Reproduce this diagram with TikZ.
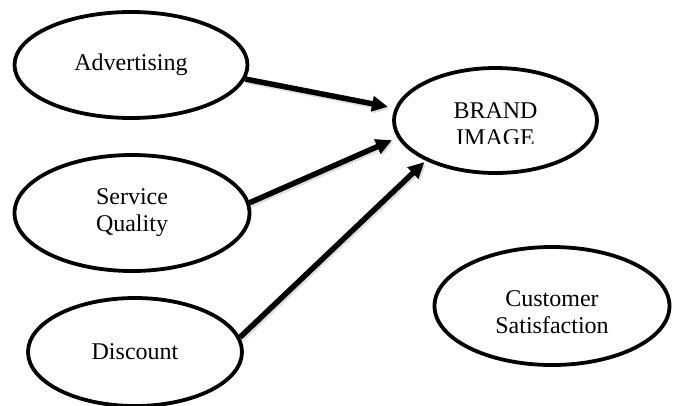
\documentclass[tikz,border=0pt]{standalone}
\usepackage{fontspec}
\setmainfont{Liberation Serif}
\usetikzlibrary{shapes.geometric,arrows.meta}

\tikzset{
  oval/.style={ellipse, draw=black, line width=3.8pt, inner sep=0pt,
    align=center, font=\fontsize{24}{27}\selectfont},
  link/.style={line width=5.5pt, -{Triangle[length=16pt,width=15pt]}},
  linkshade/.style={link, draw=black!25, fill=black!25, opacity=0.5,
    transform canvas={shift={(1.5pt,-2pt)}}},
}

\begin{document}
\begin{tikzpicture}[x=1pt,y=-1pt]
  \clip (0,0) rectangle (677,405);
  \useasboundingbox (0,0) rectangle (677,405);

  % factor ovals
  \node[oval, minimum width=233pt, minimum height=106pt] (adv) at (131,65) {Advertising};
  \node[oval, minimum width=235pt, minimum height=116pt] (svc) at (132,213) {Service\\Quality};
  \node[oval, minimum width=214pt, minimum height=108pt] (dis) at (135,352) {Discount};

  % outcome ovals
  \node[oval, minimum width=203pt, minimum height=105pt] (brand) at (495.5,120.5) {};
  \begin{scope}
    \clip (395,60) rectangle (597,143);
    \node[font=\fontsize{24}{27}\selectfont, align=center] (brandtext) at (495.5,124) {BRAND\\IMAGE};
  \end{scope}
  \node[oval, minimum width=235pt, minimum height=118pt] (cs) at (552,306) {};
  \node[font=\fontsize{24}{27}\selectfont, align=center] (cstext) at (552,312) {Customer\\Satisfaction};

  % soft shading under the arrows
  \draw[linkshade, shorten >=7pt] (adv.-7) -- (brand.173);
  \draw[linkshade, shorten >=6pt] (svc.5) -- (brand.190);
  \draw[linkshade, shorten >=2pt] (dis.8) -- (brand.210);

  % influences on brand image
  \draw[link, shorten >=7pt] (adv.-7) -- (brand.173);
  \draw[link, shorten >=6pt] (svc.5) -- (brand.190);
  \draw[link, shorten >=2pt] (dis.8) -- (brand.210);
\end{tikzpicture}
\end{document}
